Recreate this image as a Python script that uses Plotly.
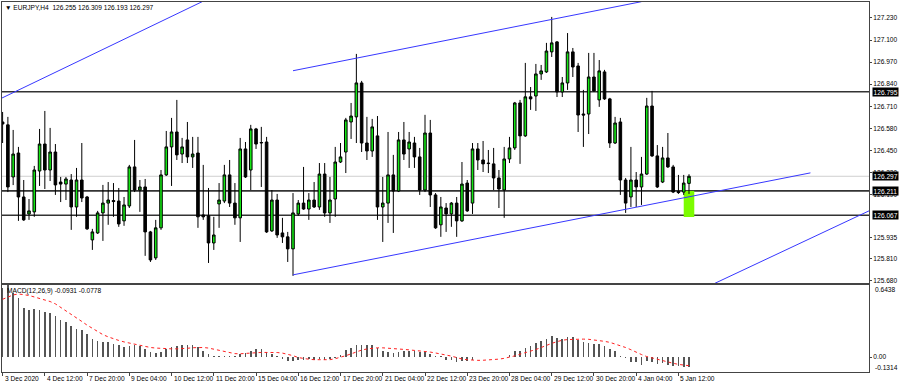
import plotly.graph_objects as go

# ---------------- data ----------------
symbol = "EURJPY,H4"

opens = [126.617, 126.600, 126.293, 126.434, 126.175, 126.075, 126.087, 126.328, 126.487, 126.334,
         126.440, 126.263, 126.251, 126.275, 126.116, 126.275, 126.175, 125.922, 125.963, 126.081,
         126.139, 126.154, 126.151, 126.034, 126.122, 126.352, 126.216, 126.234, 125.969, 125.816,
         125.993, 126.305, 126.470, 126.558, 126.428, 126.511, 126.411, 126.434, 126.069, 126.064,
         125.904, 126.134, 126.151, 126.305, 126.139, 126.052, 126.458, 126.334, 126.576, 126.493,
         126.499, 125.975, 126.157, 125.963, 125.940, 125.869, 126.075, 126.139, 126.104, 126.157,
         126.116, 126.310, 126.081, 126.163, 126.381, 126.440, 126.617, 126.647, 126.847, 126.493,
         126.446, 126.535, 126.116, 126.139, 126.305, 126.210, 126.511, 126.458, 126.493, 126.411,
         126.216, 126.552, 126.187, 126.011, 126.110, 126.075, 126.139, 126.034, 126.257, 126.139,
         126.458, 126.393, 126.375, 126.370, 126.287, 126.216, 126.399, 126.464, 126.729, 126.535,
         126.765, 126.770, 126.900, 126.912, 127.030, 127.089, 126.794, 126.847, 127.030, 126.947,
         126.664, 126.664, 126.882, 126.747, 126.912, 126.753, 126.493, 126.617, 126.275, 126.175,
         126.275, 126.234, 126.310, 126.711, 126.417, 126.263, 126.405, 126.352, 126.207, 126.204,
         126.255]
highs = [126.676, 126.647, 126.570, 126.470, 126.275, 126.163, 126.358, 126.576, 126.682, 126.582,
         126.487, 126.293, 126.293, 126.310, 126.346, 126.493, 126.181, 125.987, 126.093, 126.246,
         126.263, 126.257, 126.228, 126.175, 126.364, 126.511, 126.275, 126.281, 125.975, 126.040,
         126.334, 126.564, 126.641, 126.747, 126.523, 126.617, 126.529, 126.529, 126.364, 126.228,
         126.058, 126.257, 126.364, 126.393, 126.257, 126.523, 126.499, 126.600, 126.582, 126.588,
         126.529, 126.216, 126.193, 126.052, 125.969, 126.198, 126.157, 126.352, 126.198, 126.263,
         126.375, 126.375, 126.293, 126.470, 126.493, 126.641, 126.729, 127.018, 126.859, 126.647,
         126.635, 126.652, 126.293, 126.558, 126.423, 126.558, 126.617, 126.558, 126.529, 126.464,
         126.659, 126.629, 126.198, 126.175, 126.139, 126.145, 126.175, 126.381, 126.275, 126.493,
         126.493, 126.505, 126.452, 126.464, 126.334, 126.470, 126.529, 126.735, 126.747, 126.965,
         126.823, 126.959, 126.953, 127.083, 127.236, 127.094, 126.882, 127.141, 127.053, 126.965,
         126.806, 127.024, 127.024, 126.982, 126.924, 126.759, 126.647, 126.641, 126.287, 126.470,
         126.322, 126.411, 126.759, 126.800, 126.481, 126.470, 126.552, 126.364, 126.305, 126.305,
         126.309]
lows = [126.493, 126.204, 126.245, 126.034, 126.034, 126.040, 126.058, 126.240, 126.222, 126.269,
        126.187, 126.145, 126.157, 125.981, 126.058, 126.145, 125.981, 125.863, 125.957, 125.916,
        126.011, 126.058, 125.999, 126.005, 126.110, 126.204, 126.087, 125.828, 125.792, 125.804,
        125.981, 126.299, 126.240, 126.393, 126.375, 126.375, 126.346, 125.993, 126.040, 125.786,
        125.863, 125.993, 126.139, 126.116, 126.011, 125.910, 126.287, 126.216, 126.458, 126.234,
        125.963, 125.969, 125.934, 125.904, 125.792, 125.710, 126.064, 126.099, 126.040, 126.110,
        126.099, 126.058, 126.022, 126.058, 126.375, 126.316, 126.517, 126.493, 126.440, 126.393,
        126.411, 126.040, 125.910, 126.022, 125.963, 126.204, 126.393, 126.346, 126.346, 126.187,
        126.204, 126.116, 125.987, 125.940, 125.969, 125.999, 125.940, 126.028, 126.087, 126.075,
        126.334, 126.322, 126.316, 126.216, 126.110, 126.052, 126.375, 126.452, 126.370, 126.529,
        126.688, 126.682, 126.865, 126.906, 127.000, 126.764, 126.764, 126.806, 126.882, 126.558,
        126.470, 126.546, 126.794, 126.706, 126.747, 126.464, 126.487, 126.187, 126.081, 126.116,
        126.116, 126.128, 126.305, 126.411, 126.228, 126.257, 126.346, 126.198, 126.193, 126.187,
        126.193]
closes = [126.605, 126.234, 126.428, 126.175, 126.040, 126.093, 126.334, 126.487, 126.334, 126.440,
          126.246, 126.251, 126.281, 126.116, 126.275, 126.169, 125.987, 125.969, 126.081, 126.139,
          126.157, 126.148, 126.016, 126.128, 126.352, 126.216, 126.234, 125.969, 125.804, 125.993,
          126.305, 126.470, 126.558, 126.423, 126.470, 126.411, 126.428, 126.058, 126.058, 125.904,
          125.951, 126.157, 126.305, 126.139, 126.052, 126.458, 126.293, 126.576, 126.487, 126.496,
          125.969, 126.157, 125.951, 125.940, 125.869, 126.081, 126.139, 126.104, 126.157, 126.116,
          126.310, 126.081, 126.157, 126.381, 126.411, 126.629, 126.652, 126.847, 126.493, 126.446,
          126.588, 126.116, 126.139, 126.305, 126.210, 126.511, 126.428, 126.499, 126.411, 126.216,
          126.552, 126.187, 125.993, 126.116, 126.075, 126.139, 126.034, 126.251, 126.093, 126.458,
          126.393, 126.370, 126.372, 126.287, 126.222, 126.399, 126.464, 126.729, 126.535, 126.765,
          126.753, 126.900, 126.918, 127.035, 127.083, 126.794, 126.847, 127.030, 126.941, 126.658,
          126.658, 126.882, 126.800, 126.918, 126.753, 126.493, 126.611, 126.275, 126.139, 126.275,
          126.234, 126.310, 126.711, 126.417, 126.234, 126.405, 126.352, 126.204, 126.201, 126.257,
          126.297]

macd_main = [0.620, 0.6438, 0.570, 0.525, 0.436, 0.421, 0.427, 0.416, 0.401, 0.392,
             0.368, 0.332, 0.309, 0.279, 0.252, 0.243, 0.205, 0.163, 0.145, 0.134,
             0.131, 0.116, 0.104, 0.089, 0.101, 0.104, 0.095, 0.071, 0.042, 0.036,
             0.042, 0.071, 0.089, 0.095, 0.110, 0.110, 0.110, 0.086, 0.056, 0.030,
             0.006, 0.006, 0.012, 0.012, 0.012, 0.030, 0.036, 0.056, 0.071, 0.074,
             0.042, 0.030, 0.006, -0.018, -0.039, -0.033, -0.024, -0.024, -0.018, -0.024,
             -0.018, -0.024, -0.018, -0.009, 0.021, 0.059, 0.080, 0.110, 0.110, 0.107,
             0.110, 0.080, 0.050, 0.042, 0.036, 0.042, 0.050, 0.056, 0.050, 0.042,
             0.042, 0.030, 0.012, 0.006, -0.024, -0.024, -0.047, -0.033, -0.039, -0.024,
             -0.003, -0.002, 0.001, 0.001, -0.003, 0.002, 0.021, 0.050, 0.056, 0.080,
             0.101, 0.125, 0.140, 0.163, 0.184, 0.169, 0.163, 0.178, 0.175, 0.154,
             0.131, 0.125, 0.116, 0.116, 0.101, 0.071, 0.056, 0.012, -0.009, -0.047,
             -0.047, -0.068, -0.039, -0.047, -0.062, -0.053, -0.074, -0.083, -0.083, -0.089,
             -0.0931]
macd_signal = [0.516, 0.535, 0.555, 0.564, 0.560, 0.550, 0.537, 0.525, 0.512, 0.496,
               0.475, 0.445, 0.410, 0.380, 0.350, 0.318, 0.285, 0.255, 0.225, 0.200,
               0.180, 0.162, 0.148, 0.135, 0.124, 0.115, 0.105, 0.093, 0.085, 0.080,
               0.076, 0.074, 0.073, 0.073, 0.074, 0.078, 0.083, 0.086, 0.085, 0.080,
               0.070, 0.058, 0.045, 0.035, 0.030, 0.029, 0.030, 0.033, 0.038, 0.041,
               0.042, 0.042, 0.040, 0.035, 0.025, 0.012, -0.005, -0.015, -0.020, -0.024,
               -0.025, -0.025, -0.024, -0.015, -0.003, 0.012, 0.028, 0.048, 0.062, 0.072,
               0.080, 0.082, 0.082, 0.080, 0.078, 0.074, 0.068, 0.064, 0.060, 0.055,
               0.050, 0.044, 0.036, 0.028, 0.020, 0.008, -0.005, -0.018, -0.024, -0.028,
               -0.030, -0.029, -0.027, -0.024, -0.019, -0.012, -0.002, 0.010, 0.025, 0.038,
               0.050, 0.067, 0.085, 0.105, 0.122, 0.137, 0.150, 0.156, 0.159, 0.160,
               0.160, 0.158, 0.154, 0.148, 0.140, 0.131, 0.118, 0.103, 0.085, 0.065,
               0.042, 0.022, 0.004, -0.009, -0.023, -0.036, -0.047, -0.056, -0.066, -0.072,
               -0.0778]
macd_max = 0.6438
macd_min = -0.1314

date_labels = ["3 Dec 2020", "4 Dec 12:00", "7 Dec 20:00", "9 Dec 04:00", "10 Dec 12:00",
               "11 Dec 20:00", "15 Dec 04:00", "16 Dec 12:00", "17 Dec 20:00", "21 Dec 04:00",
               "22 Dec 12:00", "23 Dec 20:00", "28 Dec 04:00", "29 Dec 12:00", "30 Dec 20:00",
               "4 Jan 04:00", "5 Jan 12:00"]
date_label_bars = [8 * k for k in range(len(date_labels))]

price_ticks = [127.230, 127.100, 126.970, 126.840, 126.710, 126.580, 126.450,
               126.320, 126.190, 125.935, 125.810, 125.680]

level_prices = [126.795, 126.211, 126.067]
bid_price = closes[-1]

# trend lines (bar index, price)
trend_a_bars = [-1, 40]
trend_a_prices = [126.745, 127.359]
trend_b_bars = [55, 121]
trend_b_prices = [126.919, 127.326]
trend_c_bars = [55, 153]
trend_c_prices = [125.716, 126.317]
trend_d_bars = [134, 166]
trend_d_prices = [125.653, 126.121]

zone_bars = [129, 131]
zone_prices = [126.057, 126.211]

# ---------------- layout geometry ----------------
W, H = 900, 386
BAR0_PX, BAR_PX = 2.6, 5.28
LEFT_PX, RIGHT_PX = 2, 869
MAIN_TOP, MAIN_BOT = 2, 283
MACD_TOP, MACD_BOT = 285, 371.7
PRICE_RANGE = [125.668, 127.324]

def px(xp):
    return xp / W

def py(yp):
    return 1 - yp / H

x_range = [(LEFT_PX - BAR0_PX) / BAR_PX, (RIGHT_PX - BAR0_PX) / BAR_PX]
idx = list(range(len(closes)))

FONT = "Liberation Sans, Arial, sans-serif"
FS = 6.6
FRAME = "#444444"
BLUE = "rgb(55,55,255)"

fig = go.Figure()

fig.add_trace(go.Candlestick(
    x=idx, open=opens, high=highs, low=lows, close=closes,
    increasing=dict(line=dict(color="#000000", width=1), fillcolor="#14e614"),
    decreasing=dict(line=dict(color="#000000", width=1), fillcolor="#000000"),
    whiskerwidth=0, xaxis="x", yaxis="y", showlegend=False, hoverinfo="skip",
))

for bx, pv in [(trend_a_bars, trend_a_prices), (trend_b_bars, trend_b_prices),
               (trend_c_bars, trend_c_prices), (trend_d_bars, trend_d_prices)]:
    fig.add_trace(go.Scatter(x=bx, y=pv, mode="lines", line=dict(color=BLUE, width=1),
                             xaxis="x", yaxis="y", showlegend=False, hoverinfo="skip"))

fig.add_trace(go.Bar(x=idx, y=macd_main, width=0.3, marker=dict(color="#555555", line=dict(width=0)),
                     xaxis="x2", yaxis="y2", showlegend=False, hoverinfo="skip"))
fig.add_trace(go.Scatter(x=idx, y=macd_signal, mode="lines",
                         line=dict(color="#ff2020", width=1, dash="dot"),
                         xaxis="x2", yaxis="y2", showlegend=False, hoverinfo="skip"))

shapes = []
shapes.append(dict(type="rect", xref="x", yref="y", x0=zone_bars[0], x1=zone_bars[1],
                   y0=zone_prices[0], y1=zone_prices[1], fillcolor="#7cfc00",
                   line=dict(width=0), layer="below"))
shapes.append(dict(type="line", xref="x domain", yref="y", x0=0, x1=1, y0=bid_price, y1=bid_price,
                   line=dict(color="#cfcfcf", width=1), layer="below"))
for lv in level_prices:
    shapes.append(dict(type="line", xref="x domain", yref="y", x0=0, x1=1, y0=lv, y1=lv,
                       line=dict(color="#333333", width=1.6), layer="below"))

annotations = []
annotations.append(dict(
    xref="paper", yref="paper", x=px(3), y=py(7.5), xanchor="left", yanchor="middle",
    text="\u25bc " + symbol + "  " + " ".join(f"{v:.3f}" for v in (opens[-1], highs[-1], lows[-1], closes[-1])),
    showarrow=False, font=dict(family=FONT, size=FS, color="#000000")))
annotations.append(dict(
    xref="paper", yref="paper", x=px(5), y=py(291), xanchor="left", yanchor="middle",
    text=f"MACD(12,26,9) {macd_main[-1]:.4f} {macd_signal[-1]:.4f}",
    showarrow=False, font=dict(family=FONT, size=FS, color="#000000")))
for lv in level_prices + [bid_price]:
    annotations.append(dict(
        xref="paper", yref="y", x=px(RIGHT_PX + 2.5), y=lv, xanchor="left", yanchor="middle",
        text=f"{lv:.3f}", showarrow=False, bgcolor="#000000", borderpad=0.6,
        font=dict(family=FONT, size=FS, color="#ffffff")))
for txt, yp in [(f"{macd_max:.4f}", 289), (f"{macd_min:.4f}", 367.5)]:
    annotations.append(dict(
        xref="paper", yref="paper", x=px(RIGHT_PX + 4), y=py(yp), xanchor="left", yanchor="middle",
        text=txt, showarrow=False, font=dict(family=FONT, size=FS, color="#000000")))
for b, lab in zip(date_label_bars, date_labels):
    annotations.append(dict(
        xref="x2", yref="paper", x=b, y=py(378.5), xanchor="left", yanchor="middle", xshift=0,
        text=lab, showarrow=False, font=dict(family=FONT, size=FS, color="#000000")))

axis_common = dict(showgrid=False, zeroline=False, showline=True, mirror=True,
                   linecolor=FRAME, linewidth=1)

fig.update_layout(
    width=W, height=H, margin=dict(l=0, r=0, t=0, b=0),
    paper_bgcolor="#ffffff", plot_bgcolor="#ffffff",
    showlegend=False, hovermode=False, barmode="overlay", bargap=0,
    font=dict(family=FONT, size=FS, color="#000000"),
    xaxis=dict(domain=[px(LEFT_PX), px(RIGHT_PX)], range=x_range, anchor="y",
               showticklabels=False, ticks="", rangeslider=dict(visible=False), **axis_common),
    yaxis=dict(domain=[py(MAIN_BOT), py(MAIN_TOP)], range=PRICE_RANGE, anchor="x", side="right",
               tickvals=price_ticks, ticktext=[f"{v:.3f}" for v in price_ticks],
               ticks="outside", ticklen=2, tickcolor=FRAME,
               tickfont=dict(family=FONT, size=FS, color="#000000"), **axis_common),
    xaxis2=dict(domain=[px(LEFT_PX), px(RIGHT_PX)], range=x_range, anchor="y2", matches="x",
                tickvals=date_label_bars, showticklabels=False, ticks="outside", ticklen=3,
                tickcolor=FRAME, **axis_common),
    yaxis2=dict(domain=[py(MACD_BOT), py(MACD_TOP)], range=[macd_min, macd_max], anchor="x2",
                side="right", tickvals=[0], ticktext=["0.00"], ticks="outside", ticklen=2,
                tickcolor=FRAME, tickfont=dict(family=FONT, size=FS, color="#000000"), **axis_common),
    shapes=shapes, annotations=annotations,
)

fig.write_html("out.html", config={"displayModeBar": False, "staticPlot": True},
               post_script="document.body.style.margin='0';document.body.style.padding='0';"
                           "document.documentElement.style.overflow='hidden';")
